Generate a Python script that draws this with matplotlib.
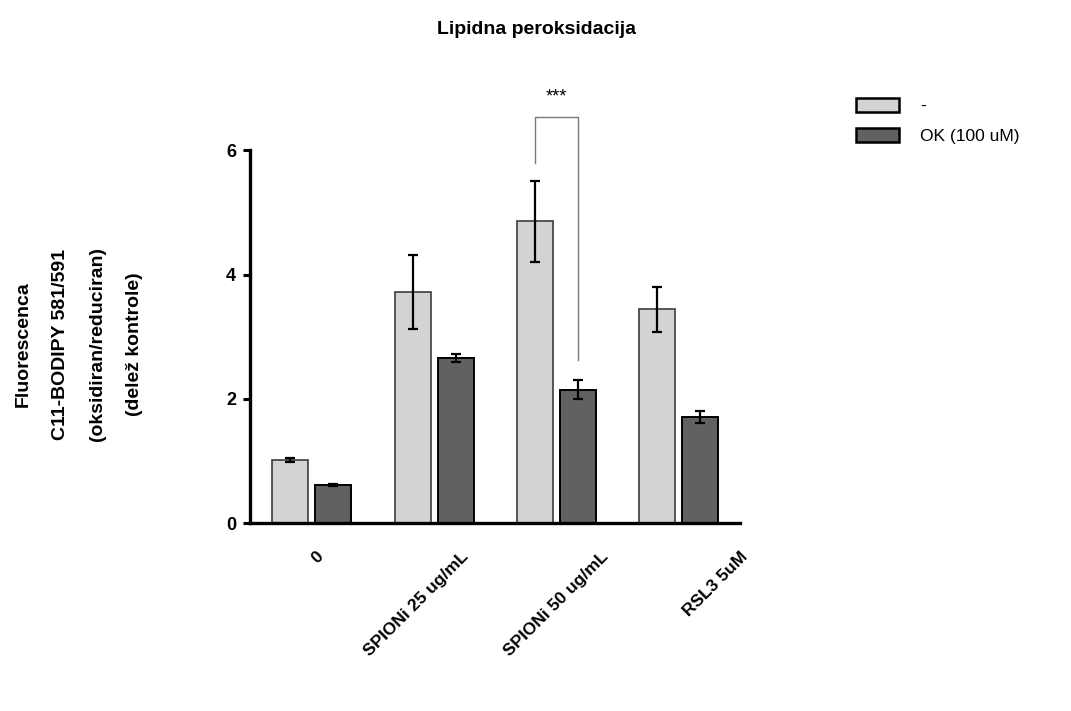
import matplotlib
matplotlib.use("Agg")
import matplotlib.pyplot as plt
import matplotlib.transforms as mtransforms
import numpy as np

plt.rcParams['font.family'] = ['Liberation Sans', 'DejaVu Sans']

# Data: C11-BODIPY 581/591 fluorescence ratio (fraction of control)
categories = ["0", "SPIONi 25 ug/mL", "SPIONi 50 ug/mL", "RSL3 5uM"]
series_names = ["-", "OK (100 uM)"]
ctrl_mean = [1.02, 3.72, 4.86, 3.44]
ctrl_err = [0.03, 0.60, 0.65, 0.36]
ok_mean = [0.62, 2.66, 2.15, 1.71]
ok_err = [0.02, 0.06, 0.15, 0.09]
yticks = [0, 2, 4, 6]
signif_label = "***"

fig = plt.figure(figsize=(10.71, 7.11), dpi=100)
ax = fig.add_axes([250 / 1071, 1 - 523.3 / 711, 490 / 1071, (523.3 - 150.3) / 711])

x = np.arange(len(categories))
width = 0.294
offset = 0.176

err_kw = dict(ecolor="black", elinewidth=1.6, capsize=3.3, capthick=1.6)
ax.bar(x - offset, ctrl_mean, width, yerr=ctrl_err, color="#d3d3d3",
       edgecolor="#3c3c3c", linewidth=1.2, error_kw=err_kw, label=series_names[0], zorder=2)
ax.bar(x + offset, ok_mean, width, yerr=ok_err, color="#616161",
       edgecolor="black", linewidth=1.4, error_kw=err_kw, label=series_names[1], zorder=2)

ax.set_xlim(-0.504, 3.5)
ax.set_ylim(0, 6)
ax.set_yticks(yticks)
ax.set_yticklabels([str(t) for t in yticks], fontsize=13, fontweight="bold")

for side in ("top", "right"):
    ax.spines[side].set_visible(False)
for side in ("left", "bottom"):
    ax.spines[side].set_linewidth(2.4)
ax.tick_params(axis="y", length=5, width=2.2, pad=5)
ax.tick_params(axis="x", length=0, pad=0)

# Category labels, rotated and anchored at their right end
ax.set_xticks(x)
ax.set_xticklabels(categories, fontsize=12.5, fontweight="bold")
label_dx = [9, 32, 50, 66]
for lab, dx in zip(ax.get_xticklabels(), label_dx):
    lab.set_rotation(45)
    lab.set_ha("right")
    lab.set_va("center")
    lab.set_rotation_mode("anchor")
    lab.set_transform(lab.get_transform() +
                      mtransforms.ScaledTranslation(dx / 100, -31 / 100, fig.dpi_scale_trans))

# Significance bracket between the two bars of the 50 ug/mL group
g = 2
xl, xr = x[g] - offset, x[g] + offset
top = 6.53
ax.plot([xl, xl, xr, xr], [ctrl_mean[g] + ctrl_err[g] + 0.28, top, top, ok_mean[g] + ok_err[g] + 0.33],
        color="#7a7a7a", linewidth=1.0, clip_on=False, zorder=3)
ax.text(x[g], 6.85, signif_label, ha="center", va="center", fontsize=13, clip_on=False)

fig.text(0.501, 1 - 30 / 711, "Lipidna peroksidacija", ha="center", va="center",
         fontsize=14, fontweight="bold")

fig.text(79 / 1071, 1 - 344 / 711,
         "Fluorescenca\nC11-BODIPY 581/591\n(oksidiran/reduciran)\n(delež kontrole)",
         rotation=90, ha="center", va="center", multialignment="center",
         fontsize=14, fontweight="bold", linespacing=2.55)

leg = ax.legend(loc="upper left", bbox_to_anchor=(856 / 1071, 1 - 98 / 711),
                bbox_transform=fig.transFigure, frameon=False, fontsize=12.5,
                handlelength=2.5, handleheight=0.9, handletextpad=1.2,
                labelspacing=0.8, borderpad=0, borderaxespad=0)
for h in leg.legend_handles:
    h.set_edgecolor("black")
    h.set_linewidth(1.8)

fig.savefig("out.png", dpi=100)
